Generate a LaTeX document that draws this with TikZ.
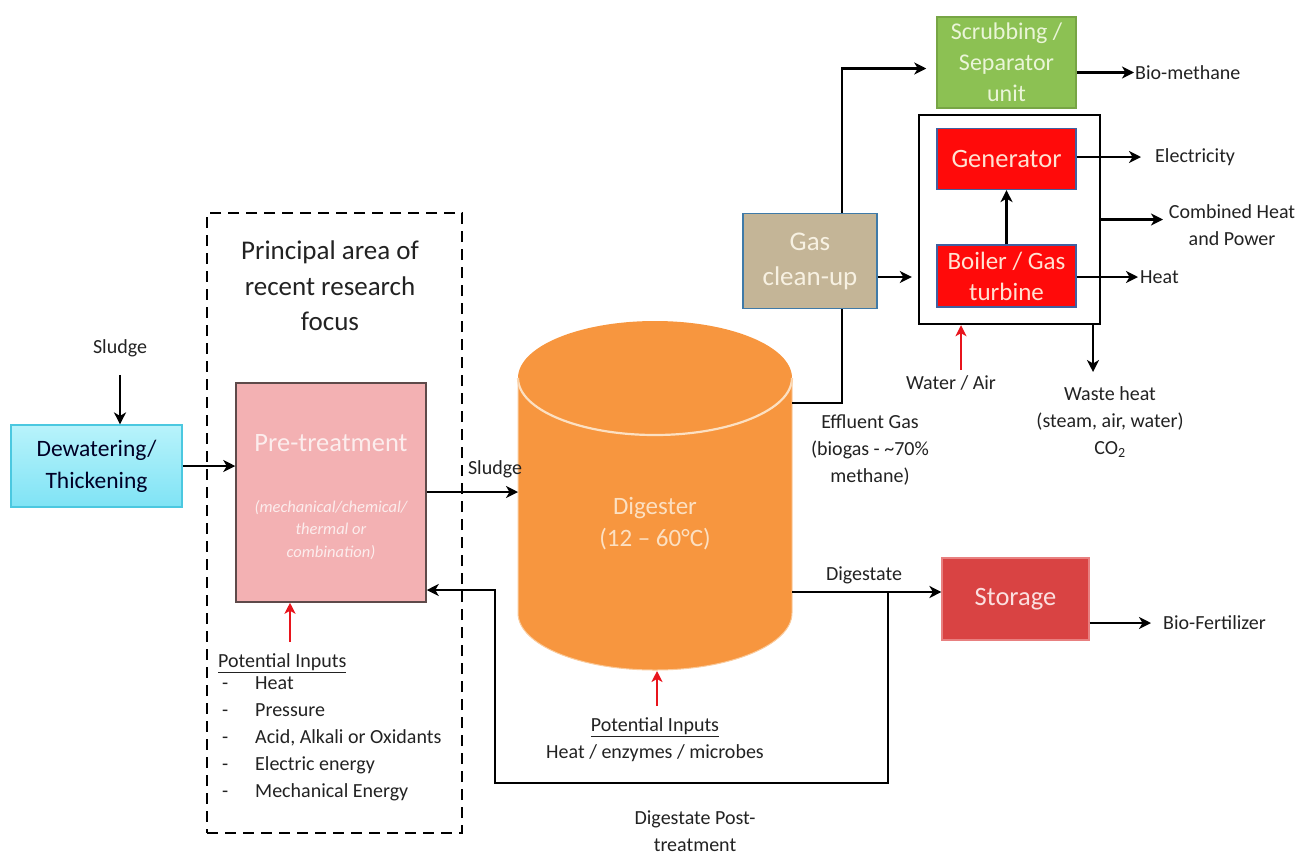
\documentclass[tikz,border=0pt]{standalone}
\usepackage{fontspec}
\setmainfont{Carlito}
\usetikzlibrary{arrows.meta}
\definecolor{txt}{HTML}{222222}
\definecolor{cyanF}{HTML}{7FE3F5}
\definecolor{cyanT}{HTML}{B8F3FB}
\definecolor{cyanD}{HTML}{4BC8E0}
\definecolor{pinkF}{HTML}{F3B1B3}
\definecolor{pinkD}{HTML}{5E4A4A}
\definecolor{pinkT}{HTML}{FCEDED}
\definecolor{orgF}{HTML}{F7963F}
\definecolor{orgL}{HTML}{FCE0C2}
\definecolor{tanF}{HTML}{C4B597}
\definecolor{tanD}{HTML}{3F7AA8}
\definecolor{tanT}{HTML}{F7F1E2}
\definecolor{grnF}{HTML}{8CC153}
\definecolor{grnD}{HTML}{77A545}
\definecolor{grnT}{HTML}{EAF5D8}
\definecolor{redF}{HTML}{FF0A0A}
\definecolor{redD}{HTML}{4060A0}
\definecolor{redT}{HTML}{FFE2D2}
\definecolor{stoF}{HTML}{D94343}
\definecolor{stoD}{HTML}{E88080}
\definecolor{stoT}{HTML}{FBE0E0}
\definecolor{inred}{HTML}{E8141C}
\tikzset{
  lab/.style={text=txt, font=\fontsize{20}{27}\selectfont, align=center, inner sep=0pt},
  boxtxt/.style={align=center, inner sep=0pt, font=\fontsize{24}{31}\selectfont},
  arr/.style={line width=2.6pt, draw=black, -{Stealth[length=12pt,width=12pt,inset=3.5pt]}},
  plain/.style={line width=2.6pt, draw=black},
  redarr/.style={line width=2.6pt, draw=inred, -{Stealth[length=11pt,width=11pt,inset=3pt]}},
}
\begin{document}
\begin{tikzpicture}[x=1pt,y=-1pt]
\useasboundingbox (0,0) rectangle (1316,855);

% dashed focus area
\node[draw, dash pattern=on 11pt off 7pt, line width=2.4pt, minimum width=255pt, minimum height=620pt, inner sep=0pt] (focus) at (334.5,523) {};
\node[lab, font=\fontsize{27}{35.5}\selectfont] (focustxt) at (330,286) {Principal area of\\recent research\\focus};

% dewatering
\node[boxtxt, draw=cyanD, line width=1.2pt, top color=cyanT, bottom color=cyanF, text=black!85!blue,
      minimum width=171pt, minimum height=82pt, font=\fontsize{23.5}{32}\selectfont] (dew) at (96.5,466) {Dewatering/\\Thickening};
\node[lab] (sl1) at (120,348) {Sludge};

% pre-treatment
\node[draw=pinkD, fill=pinkF, line width=1.5pt, minimum width=190pt, minimum height=219pt, inner sep=0pt] (pre) at (331,492.5) {};
\node[text=pinkT, font=\fontsize{26.5}{30}\selectfont, inner sep=0pt] (pretitle) at (331,443) {Pre-treatment};
\node[text=pinkT, font=\fontsize{16.5}{22.5}\selectfont\itshape, align=center, inner sep=0pt] (presub) at (331,530) {(mechanical/chemical/\\thermal or\\combination)};

% potential inputs (pre-treatment)
\node[lab, anchor=west] (pi1) at (218,663) {\underline{Potential Inputs}};
\node[lab, anchor=north west, align=left] (pilist) at (222,676)
  {\makebox[33pt][l]{-}Heat\\ \makebox[33pt][l]{-}Pressure\\ \makebox[33pt][l]{-}Acid, Alkali or Oxidants\\ \makebox[33pt][l]{-}Electric energy\\ \makebox[33pt][l]{-}Mechanical Energy};
\coordinate (pin) at (290,642);
\draw[redarr] (pin) -- (pre.south -| pin);

% digester cylinder
\fill[orgF] (518,378) rectangle (792,613);
\fill[orgF] (655,613) ellipse [x radius=137, y radius=57];
\fill[orgF] (655,378) ellipse [x radius=137, y radius=57];
\draw[orgL, line width=2.2pt] (792,378) arc[start angle=0, end angle=180, x radius=137, y radius=57];
\draw[orgL!70!orgF, line width=1pt] (518,378) -- (518,613) arc[start angle=180, end angle=0, x radius=137, y radius=57] -- (792,378);
\node[text=orgL, font=\fontsize{25}{32}\selectfont, align=center, inner sep=0pt] (dig) at (655,524) {Digester\\(12 -- 60°C)};
\coordinate (digW) at (518,492);
\coordinate (digGas) at (792,403);
\coordinate (digOut) at (792,592);
\coordinate (digIn) at (657,706);
\draw[redarr] (digIn) -- (657,671);
\node[lab] (pi2) at (655,727) {\underline{Potential Inputs}};
\node[lab] (pi2b) at (655,753) {Heat / enzymes / microbes};

% sludge to digester
\draw[arr] (dew.east |- 0,466) -- (pre.west |- 0,466);
\draw[arr] ([yshift=-18pt]sl1.south) -- (sl1.south |- dew.north);
\draw[arr] (pre.east |- digW) -- (digW);
\node[lab] (sl2) at (495,469) {Sludge};

% gas clean up
\node[boxtxt, draw=tanD, fill=tanF, line width=1.5pt, text=tanT, minimum width=134pt, minimum height=95pt, font=\fontsize{27}{35}\selectfont] (gas) at (810,261) {Gas\\clean-up};
\draw[plain] (digGas) -| ([xshift=32pt]gas.south);
\node[lab] (eff) at (870,450) {Effluent Gas\\(biogas - \textasciitilde70\%\\methane)};

% scrubbing
\node[boxtxt, draw=grnD, fill=grnF, line width=1.5pt, text=grnT, minimum width=139pt, minimum height=91pt] (scrub) at (1006.5,62.5) {Scrubbing /\\Separator\\unit};
\draw[arr, shorten >=10pt] ([xshift=32pt]gas.north) |- ([yshift=-6pt]scrub.west);
\draw[arr] ([yshift=-10pt]scrub.east) -- (1134,72.5);
\node[lab, anchor=west] (biom) at (1135,73) {Bio-methane};

% CHP
\node[draw, line width=2.4pt, minimum width=181pt, minimum height=209pt, inner sep=0pt] (chp) at (1009.5,219.5) {};
\node[boxtxt, draw=redD, fill=redF, line width=1.2pt, text=redT, minimum width=139pt, minimum height=61pt, font=\fontsize{26.5}{31}\selectfont] (gen) at (1006.5,159) {Generator};
\node[boxtxt, draw=redD, fill=redF, line width=1.2pt, text=redT, minimum width=139pt, minimum height=62pt, font=\fontsize{25}{31}\selectfont] (boil) at (1006.5,276) {Boiler / Gas\\turbine};
\draw[arr] (boil.north) -- (gen.south);
\draw[arr, shorten >=6pt] ([yshift=-16pt]gas.east) -- ([yshift=-57.5pt]chp.west);
\node[lab, anchor=west] (elec) at (1155,157) {Electricity};
\draw[arr, shorten >=14pt] (gen.east |- elec) -- (elec.west);
\node[lab] (comb) at (1232,225) {Combined Heat\\and Power};
\draw[arr] (chp.east) -- (1163,219.5);
\node[lab, anchor=west] (heat) at (1140,277) {Heat};
\draw[arr, shorten >=2pt] (boil.east |- heat) -- (heat.west);
\coordinate (wasteTop) at ([xshift=83.5pt]chp.south);
\draw[arr] (wasteTop) -- (1093,372);
\node[lab] (waste) at (1110,422) {Waste heat\\(steam, air, water)\\CO\textsubscript{2}};
\coordinate (wa) at (961,370);
\draw[redarr] (wa) -- (wa |- chp.south);
\node[lab] (watair) at (951,383) {Water / Air};

% storage
\node[boxtxt, draw=stoD, fill=stoF, line width=1.2pt, text=stoT, minimum width=147pt, minimum height=82pt, font=\fontsize{26.5}{31}\selectfont] (stor) at (1015.5,599) {Storage};
\draw[arr] (digOut) -- (stor.west |- digOut);
\node[lab] (digst) at (864,575) {Digestate};
\node[lab, anchor=west] (biof) at (1163,623) {Bio-Fertilizer};
\draw[arr, shorten >=12pt] (stor.east |- biof) -- (biof.west);

% return loop
\coordinate (jn) at (888,592);
\draw[arr] (jn) -- (888,783) -- (495,783) -- (495,590) -- (pre.east |- 0,590);
\node[lab] (post) at (695,831) {Digestate Post-\\treatment};
\end{tikzpicture}
\end{document}
